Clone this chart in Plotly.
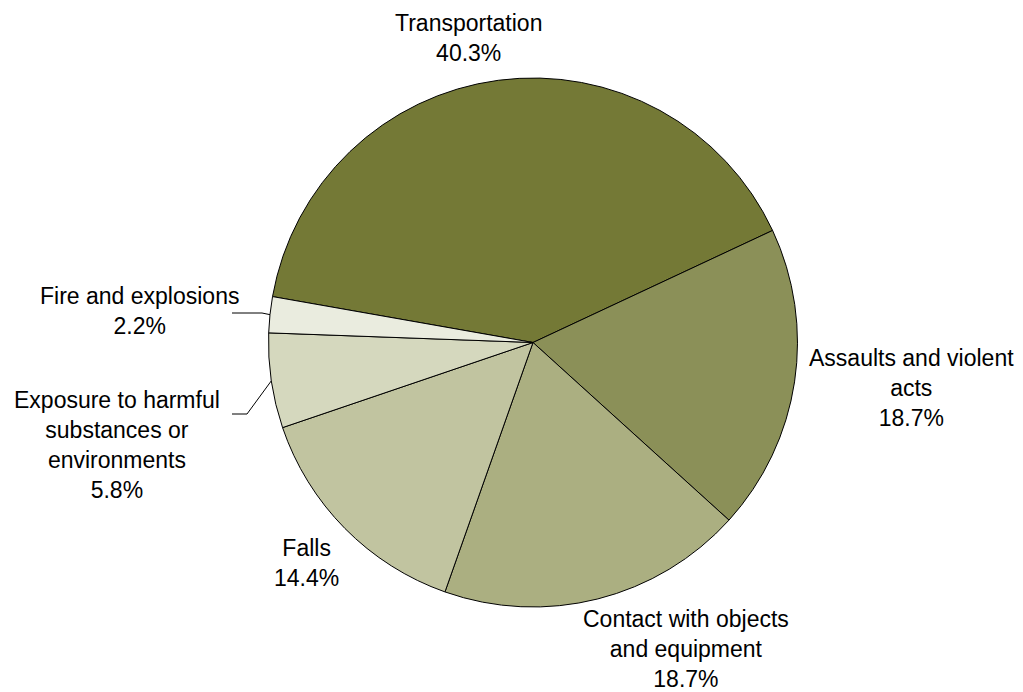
import math
import plotly.graph_objects as go

categories = ["Transportation", "Assaults and violent acts", "Contact with objects and equipment",
              "Falls", "Exposure to harmful substances or environments", "Fire and explosions"]
display_labels = ["Transportation", "Assaults and violent<br>acts", "Contact with objects<br>and equipment",
                  "Falls", "Exposure to harmful<br>substances or<br>environments", "Fire and explosions"]
values = [40.3, 18.7, 18.7, 14.4, 5.8, 2.2]
colors = ["#747936", "#8b9058", "#abaf81", "#c1c4a0", "#d5d8be", "#eaecdf"]

W, H = 1023, 692
CX, CY, R = 533, 342.5, 264.5
ROT = -80  # degrees clockwise from 12 o'clock

fig = go.Figure(go.Pie(
    labels=categories, values=values, sort=False, direction="clockwise",
    rotation=ROT, marker=dict(colors=colors, line=dict(color="#000000", width=1)),
    textinfo="none", hoverinfo="label+percent", showlegend=False,
    domain=dict(x=[(CX - R) / W, (CX + R) / W], y=[1 - (CY + R) / H, 1 - (CY - R) / H]),
))

# label centres in pixels
label_pos = [(468.5, 38), (911.5, 387.5), (685.5, 649), (306, 563), (116.5, 444.5), (139, 311)]
for lab, v, (px, py) in zip(display_labels, values, label_pos):
    fig.add_annotation(text=f"{lab}<br>{v:.1f}%", x=px / W, y=1 - py / H, xref="paper", yref="paper",
                       xanchor="center", yanchor="middle", showarrow=False, align="center",
                       font=dict(family="Liberation Sans, Arial, sans-serif", size=23, color="#000000"))

# leader lines for small slices, starting at each slice's mid-angle on the rim
total = sum(values)
cum = 0
mids = []
for v in values:
    mids.append(ROT + 360 * (cum + v / 2) / total)
    cum += v

def rim(idx):
    a = math.radians(mids[idx])
    return CX + R * math.sin(a), CY - R * math.cos(a)

def to_paper(x, y):
    return x / W, 1 - y / H

leaders = {5: [(262, 313), (232, 313)], 4: [(247, 414), (232, 414)]}
for idx, pts in leaders.items():
    path_pts = [rim(idx)] + pts
    pp = [to_paper(x, y) for x, y in path_pts]
    d = "M " + " L ".join(f"{x},{y}" for x, y in pp)
    fig.add_shape(type="path", path=d, xref="paper", yref="paper",
                  line=dict(color="#000000", width=1))

fig.update_layout(width=W, height=H, margin=dict(l=0, r=0, t=0, b=0),
                  paper_bgcolor="#ffffff", plot_bgcolor="#ffffff")
fig.write_html("out.html", config={"displayModeBar": False},
               post_script="document.body.style.margin='0';document.body.style.overflow='hidden';")
